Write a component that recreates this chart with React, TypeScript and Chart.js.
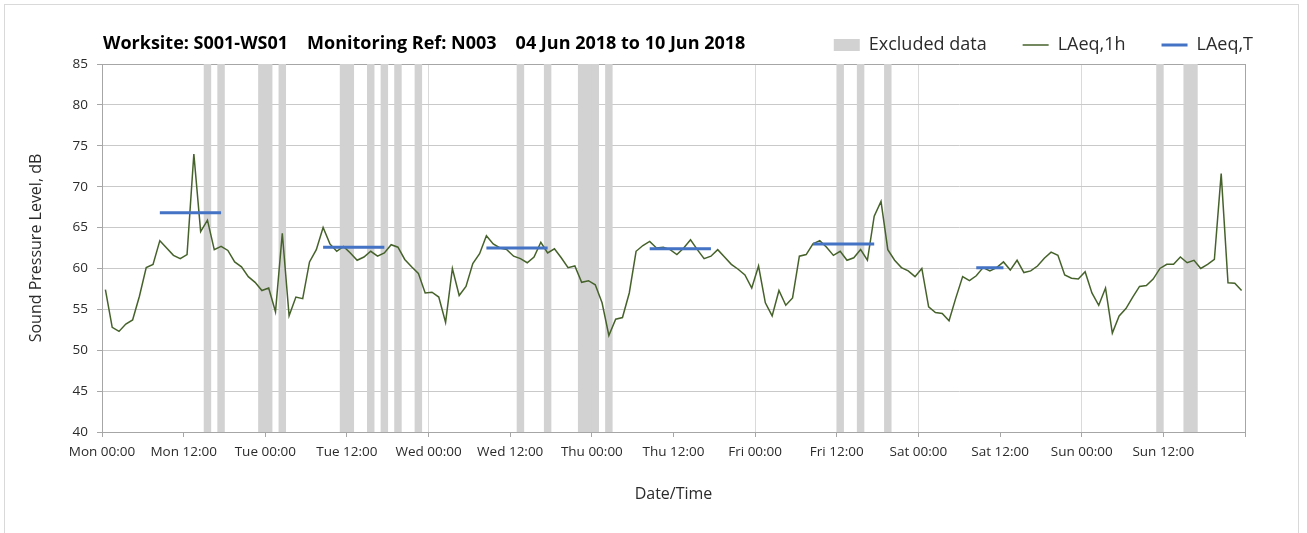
import React, { useEffect, useRef } from 'react';
import { Chart, registerables } from 'chart.js';

Chart.register(...registerables);

// ---------- data ----------
const TITLE_PARTS = ['Worksite: S001-WS01', 'Monitoring Ref: N003', '04 Jun 2018 to 10 Jun 2018'];

const X_TICK_LABELS = [
  'Mon 00:00', 'Mon 12:00', 'Tue 00:00', 'Tue 12:00', 'Wed 00:00', 'Wed 12:00', 'Thu 00:00',
  'Thu 12:00', 'Fri 00:00', 'Fri 12:00', 'Sat 00:00', 'Sat 12:00', 'Sun 00:00', 'Sun 12:00',
];

const X_MIN = 0;
const X_MAX = 168;
const X_STEP = 12;
const Y_MIN = 40;
const Y_MAX = 85;
const Y_STEP = 5;

// LAeq,1h, one value per hour (Mon 00:00 .. Sun 23:00)
const LAEQ_1H_MON = [57.4, 52.8, 52.3, 53.2, 53.7, 56.6, 60.1, 60.5, 63.4, 62.5, 61.6, 61.2, 61.7, 74.0, 64.5, 65.9, 62.3, 62.7, 62.2, 60.8, 60.2, 59.0, 58.3, 57.3];
const LAEQ_1H_TUE = [57.6, 54.7, 64.3, 54.2, 56.5, 56.3, 60.8, 62.3, 65.0, 63.0, 62.1, 62.7, 61.9, 61.0, 61.4, 62.1, 61.5, 61.9, 62.9, 62.6, 61.1, 60.2, 59.4, 57.0];
const LAEQ_1H_WED = [57.1, 56.5, 53.4, 60.0, 56.7, 57.8, 60.6, 61.8, 64.0, 63.0, 62.5, 62.3, 61.5, 61.2, 60.7, 61.4, 63.2, 61.9, 62.4, 61.3, 60.1, 60.3, 58.3, 58.5];
const LAEQ_1H_THU = [58.0, 55.8, 51.8, 53.8, 54.0, 57.0, 62.1, 62.8, 63.3, 62.5, 62.6, 62.3, 61.7, 62.5, 63.5, 62.3, 61.2, 61.5, 62.3, 61.4, 60.5, 59.9, 59.2, 57.6];
const LAEQ_1H_FRI = [60.3, 55.8, 54.2, 57.3, 55.5, 56.4, 61.5, 61.7, 63.0, 63.4, 62.6, 61.6, 62.1, 61.0, 61.3, 62.3, 61.0, 66.4, 68.2, 62.3, 61.0, 60.1, 59.7, 59.0];
const LAEQ_1H_SAT = [60.0, 55.3, 54.6, 54.5, 53.6, 56.4, 59.0, 58.5, 59.1, 60.1, 59.7, 60.1, 60.8, 59.8, 61.0, 59.5, 59.7, 60.3, 61.25, 62.0, 61.6, 59.2, 58.8, 58.7];
const LAEQ_1H_SUN = [59.6, 57.0, 55.5, 57.6, 52.1, 54.2, 55.1, 56.5, 57.8, 57.9, 58.7, 60.0, 60.5, 60.5, 61.4, 60.7, 61.0, 60.0, 60.5, 61.1, 71.6, 58.25, 58.2, 57.3];

// hours (from Mon 00:00) flagged as excluded
const EXCLUDED_HOURS = [15, 17, 23, 24, 26, 35, 36, 39, 41, 43, 46, 61, 65, 70, 71, 72, 74, 108, 111, 115, 155, 159, 160];

// LAeq,T periods: first and last hour of each assessment period, and level
const LAEQT_FIRST_HOUR = [8, 32, 56, 80, 104, 128];
const LAEQT_LAST_HOUR = [17, 41, 65, 89, 113, 132];
const LAEQT_VALUE = [66.8, 62.6, 62.5, 62.4, 63.0, 60.1];

const SERIES_LABELS = ['Excluded data', 'LAeq,1h', 'LAeq,T'];

// ---------- styles ----------
const FONT = '"Open Sans", Lato, sans-serif';
const TEXT = '#2b2b2b';
const GREEN = '#46622b';
const BLUE = '#4472c4';
const EXCL = '#d2d2d2';
const AXIS = '#a6a6a6';
const GRID_H = '#c9c9c9';
const GRID_V = '#dadada';

export default function App() {
  const ref = useRef<HTMLCanvasElement>(null);

  useEffect(() => {
    document.body.style.margin = '0';
    document.body.style.overflow = 'hidden';
    Chart.defaults.font.family = FONT;

    const hourly = [
      ...LAEQ_1H_MON, ...LAEQ_1H_TUE, ...LAEQ_1H_WED, ...LAEQ_1H_THU,
      ...LAEQ_1H_FRI, ...LAEQ_1H_SAT, ...LAEQ_1H_SUN,
    ];
    const lineData = hourly.map((y, i) => ({ x: i + 0.5, y }));
    const barData = EXCLUDED_HOURS.map((h) => ({ x: h + 0.5, y: Y_MAX }));
    const tData: { x: number; y: number | null }[] = [];
    LAEQT_FIRST_HOUR.forEach((s, k) => {
      tData.push({ x: s + 0.5, y: LAEQT_VALUE[k] });
      tData.push({ x: LAEQT_LAST_HOUR[k] + 0.5, y: LAEQT_VALUE[k] });
      tData.push({ x: LAEQT_LAST_HOUR[k] + 1, y: null });
    });

    const framePlugin = {
      id: 'frame',
      beforeDraw(chart: any) {
        const { ctx, width, height } = chart;
        ctx.save();
        ctx.fillStyle = '#ffffff';
        ctx.fillRect(0, 0, width, height);
        ctx.strokeStyle = '#d9d9d9';
        ctx.lineWidth = 1;
        ctx.strokeRect(4.5, 4.5, width - 13, height + 40);
        ctx.restore();
      },
      afterDraw(chart: any) {
        const { ctx } = chart;
        const hb = chart.legend && chart.legend.legendHitBoxes && chart.legend.legendHitBoxes[0];
        const y = hb ? hb.top + hb.height / 2 - 1.5 : 43;
        ctx.save();
        ctx.font = `bold 18px ${FONT}`;
        ctx.fillStyle = '#000000';
        ctx.textBaseline = 'middle';
        ctx.textAlign = 'left';
        let x = chart.chartArea.left + 1;
        TITLE_PARTS.forEach((t) => {
          ctx.fillText(t, x, y);
          x += ctx.measureText(t).width + 19;
        });
        ctx.restore();
      },
    };

    const chart = new Chart(ref.current as HTMLCanvasElement, {
      type: 'line',
      data: {
        datasets: [
          {
            type: 'bar',
            label: SERIES_LABELS[0],
            data: barData as any,
            backgroundColor: EXCL,
            borderWidth: 0,
            barPercentage: 1,
            categoryPercentage: 1,
            order: 3,
          } as any,
          {
            type: 'line',
            label: SERIES_LABELS[1],
            data: lineData as any,
            borderColor: GREEN,
            borderWidth: 1.5,
            pointRadius: 0,
            tension: 0,
            order: 2,
          },
          {
            type: 'line',
            label: SERIES_LABELS[2],
            data: tData as any,
            borderColor: BLUE,
            borderWidth: 3,
            pointRadius: 0,
            spanGaps: false,
            order: 1,
          },
        ],
      },
      options: {
        animation: false,
        responsive: false,
        layout: { padding: { top: 0, right: 18, bottom: 0, left: 0 } },
        plugins: {
          title: { display: false },
          tooltip: { enabled: false },
          legend: {
            position: 'top',
            align: 'end',
            maxHeight: 71,
            labels: {
              usePointStyle: true,
              pointStyleWidth: 26,
              boxHeight: 12,
              padding: 36,
              color: TEXT,
              font: { size: 18 },
              generateLabels: (c: any) =>
                c.data.datasets.map((ds: any, i: number) => ({
                  text: ds.label,
                  datasetIndex: i,
                  hidden: false,
                  fontColor: TEXT,
                  pointStyle: i === 0 ? 'rect' : 'line',
                  fillStyle: i === 0 ? ds.backgroundColor : ds.borderColor,
                  strokeStyle: i === 0 ? 'rgba(0,0,0,0)' : ds.borderColor,
                  lineWidth: i === 0 ? 0 : ds.borderWidth,
                })),
            },
          },
        },
        scales: {
          x: {
            type: 'linear',
            position: 'bottom',
            min: X_MIN,
            max: X_MAX,
            offset: false,
            afterFit: (s: any) => {
              s.height = 101;
            },
            ticks: {
              stepSize: X_STEP,
              autoSkip: false,
              maxRotation: 0,
              minRotation: 0,
              padding: 7,
              color: TEXT,
              font: { size: 13.5 },
              callback: (v: any) => X_TICK_LABELS[Math.round(Number(v) / X_STEP)] ?? '',
            },
            grid: {
              offset: false,
              color: (c: any) =>
                c.tick && c.tick.value % 24 === 0 ? GRID_V : 'rgba(0,0,0,0)',
              tickColor: AXIS,
              tickLength: 5,
              lineWidth: 1,
            },
            border: { color: AXIS, width: 1, z: 1 },
            title: {
              display: true,
              text: 'Date/Time',
              color: TEXT,
              font: { size: 16 },
              padding: { top: 0, bottom: 29 },
            },
          },
          y: {
            type: 'linear',
            position: 'left',
            min: Y_MIN,
            max: Y_MAX,
            afterFit: (s: any) => {
              s.width = 102;
            },
            ticks: { stepSize: Y_STEP, padding: 9, color: TEXT, font: { size: 13.5 } },
            grid: {
              color: (c: any) => (c.tick && c.tick.value === Y_MAX ? AXIS : GRID_H),
              tickColor: AXIS,
              tickLength: 5,
              lineWidth: 1,
            },
            border: { color: AXIS, width: 1, z: 1 },
            title: {
              display: true,
              text: 'Sound Pressure Level, dB',
              color: TEXT,
              font: { size: 16 },
              padding: { top: 27, bottom: 0 },
            },
          },
          yR: {
            type: 'linear',
            position: 'right',
            min: Y_MIN,
            max: Y_MAX,
            afterFit: (s: any) => {
              s.width = 44;
            },
            ticks: { display: false },
            grid: { display: false, drawTicks: false },
            border: { display: true, color: AXIS, width: 1, z: 1 },
          },
        },
      } as any,
      plugins: [framePlugin],
    });

    return () => chart.destroy();
  }, []);

  return (
    <div style={{ width: 1307, height: 533, overflow: 'hidden' }}>
      <canvas ref={ref} width={1307} height={533} style={{ display: 'block' }} />
    </div>
  );
}
